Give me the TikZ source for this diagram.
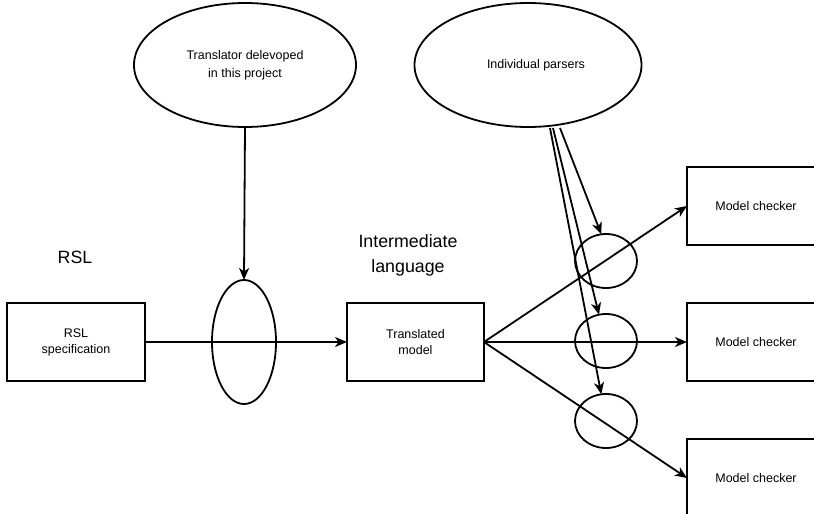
\documentclass[tikz,border=0pt]{standalone}
\usepackage{fontspec}
\setmainfont{Liberation Sans}
\usetikzlibrary{shapes.geometric,arrows.meta}
\tikzset{
  el/.style={draw, ellipse, line width=1.8pt, outer sep=0pt, inner sep=0pt, align=center},
  box/.style={draw, rectangle, line width=1.8pt, outer sep=0pt, inner sep=0pt, align=center,
    font=\fontsize{12.5}{16}\selectfont},
  conn/.style={line width=1.8pt, -{Stealth[length=12pt,width=10pt,inset=3.5pt]}},
  big/.style={font=\fontsize{17.8}{25}\selectfont, align=center}
}
\begin{document}
\begin{tikzpicture}[x=1pt,y=-1pt]
\useasboundingbox (0,0) rectangle (814,514);
% upper ellipses
\node[el, minimum width=222pt, minimum height=124pt, font=\fontsize{12.5}{18}\selectfont] (trans) at (245,65) {Translator delevoped\\in this project};
\node[el, minimum width=227pt, minimum height=124pt, font=\fontsize{12.5}{18}\selectfont] (pars) at (528,65) {\hspace*{16pt}Individual parsers};
% labels
\node[big] (rsl) at (75,257) {RSL};
\node[big] (inter) at (408,255) {Intermediate\\language};
% boxes
\node[box, minimum width=138pt, minimum height=78pt] (spec) at (76,342) {RSL\\specification};
\node[box, minimum width=137pt, minimum height=78pt] (tm) at (415.5,342) {Translated\\model};
\node[box, minimum width=138pt, minimum height=78pt] (mc1) at (756,206) {Model checker};
\node[box, minimum width=138pt, minimum height=78pt] (mc2) at (756,342) {Model checker};
\node[box, minimum width=138pt, minimum height=78pt] (mc3) at (756,478) {Model checker};
% lens ellipses
\node[el, minimum width=64pt, minimum height=124pt] (lens) at (244,342) {};
\node[el, minimum width=62pt, minimum height=54pt] (c1) at (606,261) {};
\node[el, minimum width=62pt, minimum height=54pt] (c2) at (606,341) {};
\node[el, minimum width=62pt, minimum height=54pt] (c3) at (606,421) {};
% connectors
\draw[conn] (trans.south) -- (lens.north);
\draw[conn] (spec.east) -- (tm.west);
\draw[conn] (tm.east) -- (mc1.west);
\draw[conn] (tm.east) -- (mc2.west);
\draw[conn] (tm.east) -- (mc3.west);
\coordinate (p1) at (560,128);
\coordinate (p2) at (553,128);
\coordinate (p3) at (550,128);
\draw[conn] (p1) -- (c1.100);
\draw[conn] (p2) -- (c2.105);
\draw[conn] (p3) -- (c3.100);
\end{tikzpicture}
\end{document}
